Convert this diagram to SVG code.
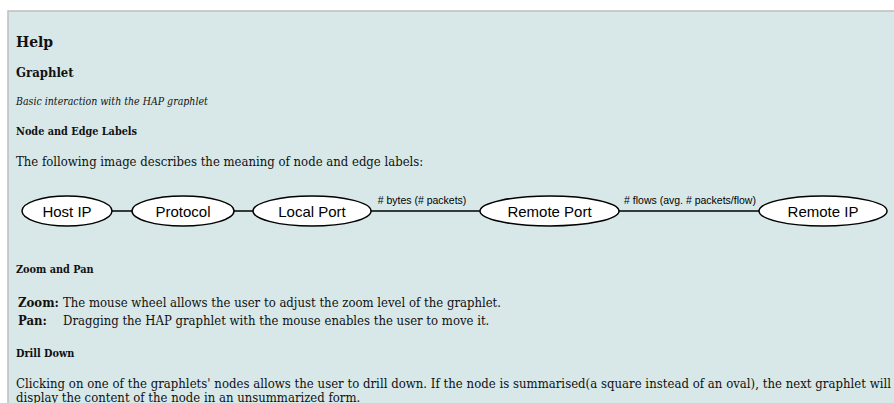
<svg xmlns="http://www.w3.org/2000/svg" width="894" height="403" viewBox="0 0 894 403">
  <style>
    .serif { font-family: "DejaVu Serif Condensed", "DejaVu Serif", "Liberation Serif", serif; fill: #111; }
    .h1 { font-size: 15.5px; font-weight: bold; }
    .h2 { font-size: 13px; font-weight: bold; }
    .h4 { font-size: 10.8px; font-weight: bold; }
    .it { font-size: 10.5px; font-style: italic; }
    .p { font-size: 13px; }
    .node ellipse { fill: #ffffff; stroke: #000; stroke-width: 1.5; }
    .node text { font-family: "Liberation Sans", Arial, sans-serif; font-size: 15px; fill: #000; text-anchor: middle; }
    .edge line { stroke: #000; stroke-width: 1.5; }
    .elabel { font-family: "Liberation Sans", Arial, sans-serif; font-size: 10.5px; fill: #000; text-anchor: middle; }
  </style>
  <rect width="894" height="403" fill="#ffffff"/>
  <!-- help panel -->
  <rect x="8" y="11" width="900" height="400" fill="#d8e8e8" stroke="#bdbdbd" stroke-width="1.5"/>

  <text class="serif h1" x="16" y="47">Help</text>
  <text class="serif h2" x="16" y="77">Graphlet</text>
  <text class="serif it" x="16" y="105">Basic interaction with the HAP graphlet</text>
  <text class="serif h4" x="16" y="135">Node and Edge Labels</text>
  <text class="serif p" x="16" y="166">The following image describes the meaning of node and edge labels:</text>

  <g id="connectors" class="edge">
    <line x1="112" y1="211" x2="132" y2="211"/>
    <line x1="234" y1="211" x2="253" y2="211"/>
    <line x1="371" y1="211" x2="480" y2="211"/>
    <line x1="619" y1="211" x2="759" y2="211"/>
    <text class="elabel" x="422" y="204"># bytes (# packets)</text>
    <text class="elabel" x="690" y="204"># flows (avg. # packets/flow)</text>
  </g>

  <g id="node-host-ip" class="node">
    <ellipse cx="67" cy="211" rx="45" ry="15"/>
    <text x="67" y="216.5">Host IP</text>
  </g>
  <g id="node-protocol" class="node">
    <ellipse cx="183" cy="211" rx="51" ry="15"/>
    <text x="183" y="216.5">Protocol</text>
  </g>
  <g id="node-local-port" class="node">
    <ellipse cx="312" cy="211" rx="59" ry="15"/>
    <text x="312" y="216.5">Local Port</text>
  </g>
  <g id="node-remote-port" class="node">
    <ellipse cx="549.5" cy="211" rx="69.5" ry="15"/>
    <text x="549.5" y="216.5">Remote Port</text>
  </g>
  <g id="node-remote-ip" class="node">
    <ellipse cx="823" cy="211" rx="64" ry="15"/>
    <text x="823" y="216.5">Remote IP</text>
  </g>

  <text class="serif h4" x="16" y="273">Zoom and Pan</text>
  <text class="serif p" x="18" y="307" font-weight="bold" font-size="14">Zoom:</text>
  <text class="serif p" x="63" y="307">The mouse wheel allows the user to adjust the zoom level of the graphlet.</text>
  <text class="serif p" x="18" y="325" font-weight="bold">Pan:</text>
  <text class="serif p" x="63" y="325">Dragging the HAP graphlet with the mouse enables the user to move it.</text>

  <text class="serif h4" x="16" y="357">Drill Down</text>
  <text class="serif p" x="16" y="388" textLength="875" lengthAdjust="spacing">Clicking on one of the graphlets' nodes allows the user to drill down. If the node is summarised(a square instead of an oval), the next graphlet will</text>
  <text class="serif p" x="16" y="402">display the content of the node in an unsummarized form.</text>
</svg>
